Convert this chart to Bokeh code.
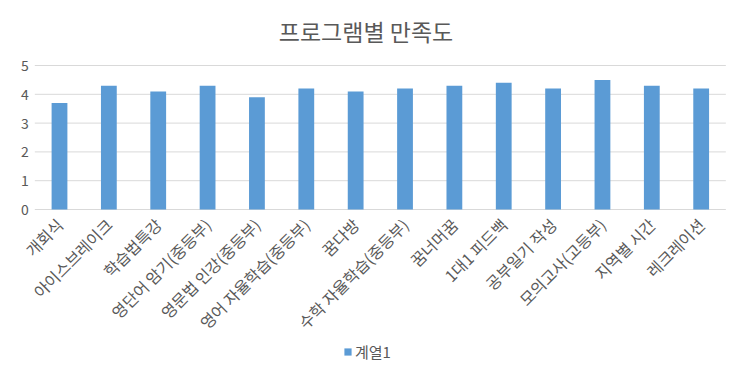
import math
from bokeh.plotting import figure
from bokeh.models import ColumnDataSource, Range1d, Legend, LegendItem, FixedTicker
from bokeh.embed import file_html
from bokeh.resources import INLINE

programs = ["개회식", "아이스브레이크", "학습법특강", "영단어 암기(중등부)", "영문법 인강(중등부)",
            "영어 자율학습(중등부)", "꿈다방", "수학 자율학습(중등부)", "꿈너머꿈", "1대1 피드백",
            "공부일기 작성", "모의고사(고등부)", "지역별 시간", "레크레이션"]
scores = [3.7, 4.3, 4.1, 4.3, 3.9, 4.2, 4.1, 4.2, 4.3, 4.4, 4.2, 4.5, 4.3, 4.2]
y_ticks = [0, 1, 2, 3, 4, 5]
series_name = "계열1"

FONT = "Noto Sans CJK KR"
TXT = "#595959"
BAR = "#5B9BD5"
GRID = "#D9D9D9"

n = len(programs)
pos = list(range(n))
left_edge, right_edge = -0.5, n - 0.5

# frame extends beyond the plotting area so that labels, title and legend fit inside it
X_RANGE = (-1.094, 13.513)
Y_RANGE = (-5.3125, 5.625)

src = ColumnDataSource(dict(x=pos, y=scores))
grid_src = ColumnDataSource(dict(x0=[left_edge] * len(y_ticks), x1=[right_edge] * len(y_ticks),
                                 y=y_ticks))

p = figure(frame_width=721, frame_height=315, x_range=Range1d(*X_RANGE),
           y_range=Range1d(*Y_RANGE), output_backend="svg", toolbar_location=None,
           title="프로그램별 만족도",
           min_border_left=5, min_border_right=10, min_border_top=47, min_border_bottom=0)
p.outline_line_color = None
p.title.align = "center"
p.title.text_font = FONT
p.title.text_font_size = "23px"
p.title.text_font_style = "normal"
p.title.text_color = TXT
p.title.standoff = 0
p.title.offset = 3

p.xgrid.grid_line_color = None
p.ygrid.grid_line_color = None

p.segment(x0="x0", x1="x1", y0="y", y1="y", source=grid_src, line_color=GRID, line_width=1)
r = p.vbar(x="x", top="y", width=0.32, source=src, color=BAR, line_color=None)

p.yaxis.fixed_location = left_edge
p.yaxis.ticker = FixedTicker(ticks=y_ticks)
p.yaxis.axis_line_color = None
p.yaxis.major_tick_line_color = None
p.yaxis.minor_tick_line_color = None
p.yaxis.major_label_text_font = FONT
p.yaxis.major_label_text_font_size = "14px"
p.yaxis.major_label_text_color = TXT
p.yaxis.major_label_standoff = 0

p.xaxis.fixed_location = 0
p.xaxis.ticker = FixedTicker(ticks=pos)
p.xaxis.major_label_overrides = {i: name for i, name in enumerate(programs)}
p.xaxis.axis_line_color = None
p.xaxis.major_tick_line_color = None
p.xaxis.minor_tick_line_color = None
p.xaxis.major_label_orientation = math.pi / 4
p.xaxis.major_label_text_font = FONT
p.xaxis.major_label_text_font_size = "16px"
p.xaxis.major_label_text_color = TXT
p.xaxis.major_label_standoff = 6

legend = Legend(items=[LegendItem(label=series_name, renderers=[r])], orientation="horizontal",
                location=(338, 0), border_line_color=None, background_fill_alpha=0,
                label_text_font=FONT, label_text_font_size="15px", label_text_color=TXT,
                glyph_width=9, glyph_height=9, label_standoff=3, padding=2, margin=0)
p.add_layout(legend, "center")

open("out.html", "w").write(file_html(p, INLINE))
